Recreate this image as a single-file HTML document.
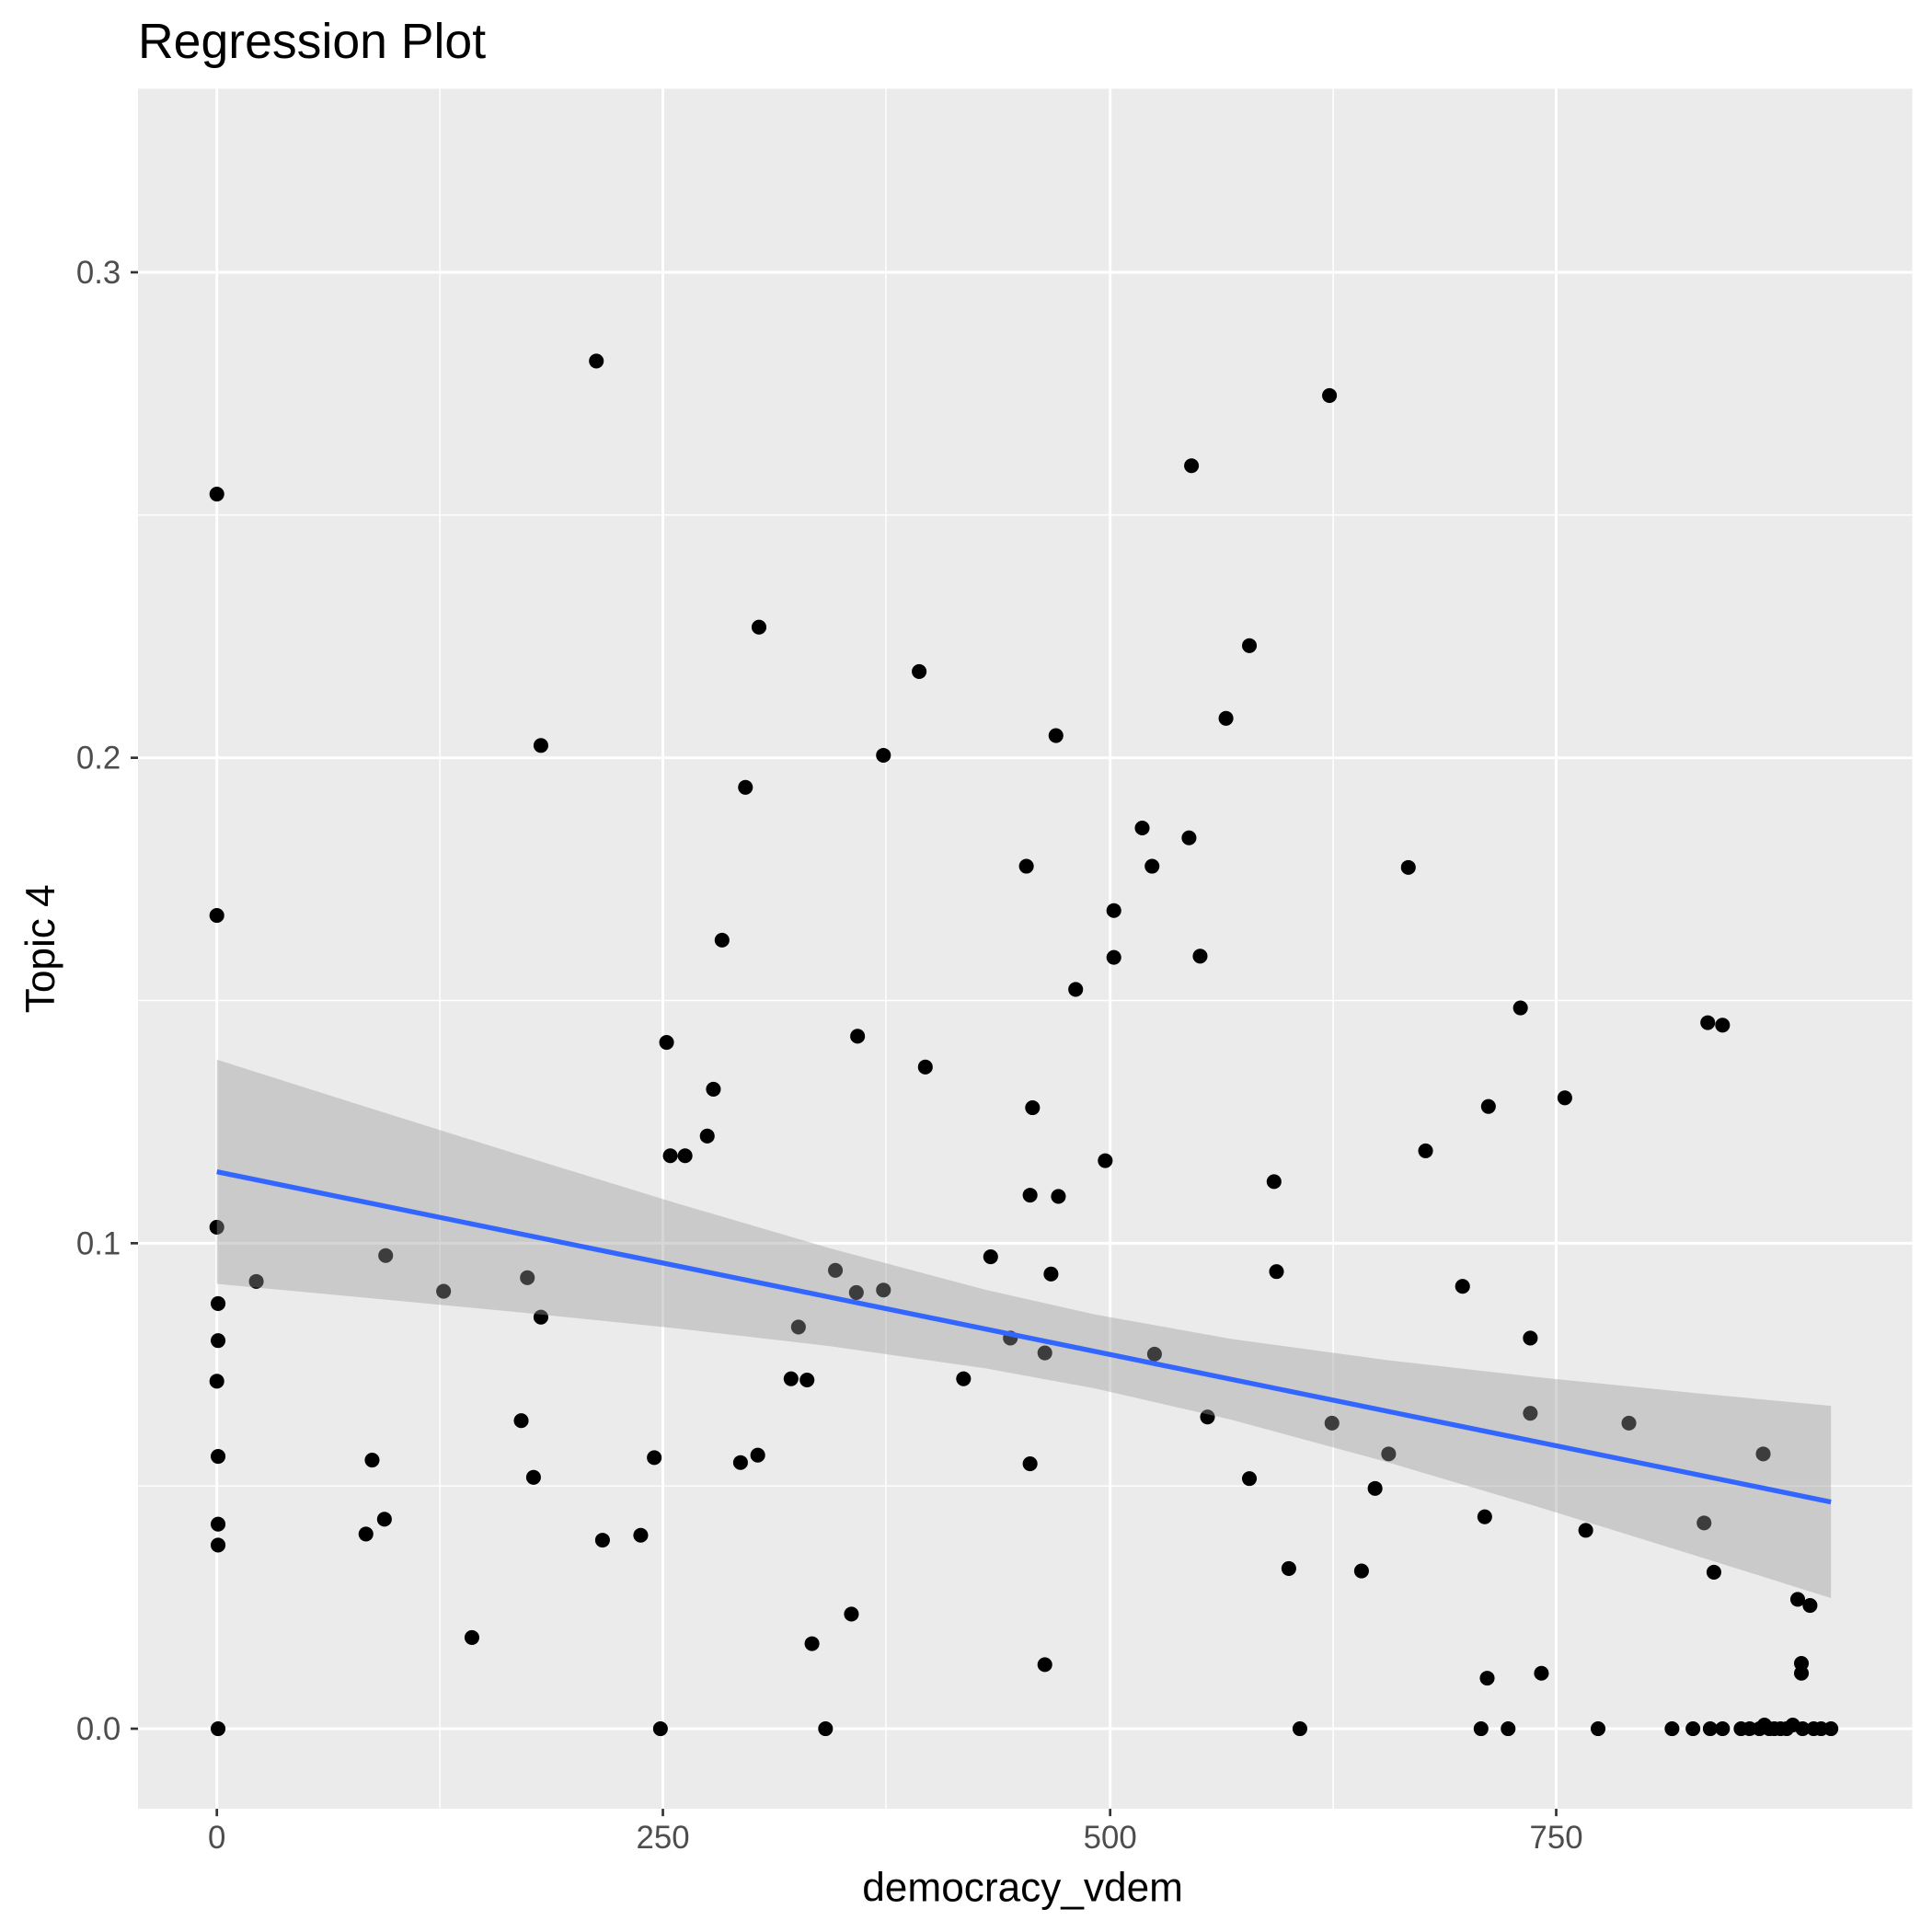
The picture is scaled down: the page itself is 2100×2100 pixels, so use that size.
<!DOCTYPE html>
<html><head><meta charset="utf-8"><style>html,body{margin:0;padding:0;background:#fff}svg{display:block}</style></head>
<body>
<svg width="2100" height="2100" viewBox="0 0 1568 1568" xmlns="http://www.w3.org/2000/svg" font-family="Liberation Sans, sans-serif">
<rect width="1568" height="1568" fill="#fff"/>
<rect x="112" y="72" width="1440" height="1396" fill="#ebebeb"/>
<g stroke="#fff" stroke-width="1.1">
<line x1="357" y1="72" x2="357" y2="1468"/><line x1="719" y1="72" x2="719" y2="1468"/><line x1="1082" y1="72" x2="1082" y2="1468"/>
<line x1="112" y1="1206" x2="1552" y2="1206"/><line x1="112" y1="812" x2="1552" y2="812"/><line x1="112" y1="418" x2="1552" y2="418"/>
</g>
<g stroke="#fff" stroke-width="2.2">
<line x1="176" y1="72" x2="176" y2="1468"/><line x1="538" y1="72" x2="538" y2="1468"/><line x1="901" y1="72" x2="901" y2="1468"/><line x1="1263" y1="72" x2="1263" y2="1468"/>
<line x1="112" y1="1403" x2="1552" y2="1403"/><line x1="112" y1="1009" x2="1552" y2="1009"/><line x1="112" y1="615" x2="1552" y2="615"/><line x1="112" y1="221" x2="1552" y2="221"/>
</g>
<g fill="#000">
<circle cx="176" cy="401" r="6"/><circle cx="176" cy="743" r="6"/><circle cx="176" cy="996" r="6"/><circle cx="177" cy="1058" r="6"/><circle cx="177" cy="1088" r="6"/><circle cx="176" cy="1121" r="6"/><circle cx="177" cy="1182" r="6"/><circle cx="177" cy="1237" r="6"/><circle cx="177" cy="1254" r="6"/><circle cx="177" cy="1403" r="6"/>
<circle cx="208" cy="1040" r="6"/><circle cx="297" cy="1245" r="6"/><circle cx="302" cy="1185" r="6"/><circle cx="312" cy="1233" r="6"/><circle cx="313" cy="1019" r="6"/><circle cx="360" cy="1048" r="6"/><circle cx="383" cy="1329" r="6"/><circle cx="423" cy="1153" r="6"/><circle cx="428" cy="1037" r="6"/><circle cx="433" cy="1199" r="6"/><circle cx="439" cy="605" r="6"/><circle cx="439" cy="1069" r="6"/><circle cx="484" cy="293" r="6"/><circle cx="489" cy="1250" r="6"/><circle cx="520" cy="1246" r="6"/><circle cx="531" cy="1183" r="6"/><circle cx="536" cy="1403" r="6"/><circle cx="541" cy="846" r="6"/><circle cx="544" cy="938" r="6"/><circle cx="556" cy="938" r="6"/><circle cx="574" cy="922" r="6"/><circle cx="579" cy="884" r="6"/><circle cx="586" cy="763" r="6"/><circle cx="601" cy="1187" r="6"/><circle cx="605" cy="639" r="6"/><circle cx="615" cy="1181" r="6"/><circle cx="616" cy="509" r="6"/><circle cx="642" cy="1119" r="6"/><circle cx="648" cy="1077" r="6"/><circle cx="655" cy="1120" r="6"/><circle cx="659" cy="1334" r="6"/><circle cx="670" cy="1403" r="6"/><circle cx="678" cy="1031" r="6"/><circle cx="691" cy="1310" r="6"/><circle cx="695" cy="1049" r="6"/><circle cx="696" cy="841" r="6"/><circle cx="717" cy="613" r="6"/><circle cx="717" cy="1047" r="6"/><circle cx="746" cy="545" r="6"/><circle cx="751" cy="866" r="6"/><circle cx="782" cy="1119" r="6"/><circle cx="804" cy="1020" r="6"/><circle cx="820" cy="1086" r="6"/><circle cx="833" cy="703" r="6"/><circle cx="836" cy="970" r="6"/><circle cx="836" cy="1188" r="6"/><circle cx="838" cy="899" r="6"/><circle cx="848" cy="1351" r="6"/><circle cx="848" cy="1098" r="6"/><circle cx="853" cy="1034" r="6"/><circle cx="857" cy="597" r="6"/><circle cx="859" cy="971" r="6"/><circle cx="873" cy="803" r="6"/><circle cx="897" cy="942" r="6"/><circle cx="904" cy="739" r="6"/><circle cx="904" cy="777" r="6"/><circle cx="927" cy="672" r="6"/><circle cx="935" cy="703" r="6"/><circle cx="937" cy="1099" r="6"/><circle cx="965" cy="680" r="6"/><circle cx="967" cy="378" r="6"/><circle cx="974" cy="776" r="6"/><circle cx="980" cy="1150" r="6"/><circle cx="995" cy="583" r="6"/><circle cx="1014" cy="524" r="6"/><circle cx="1014" cy="1200" r="6"/><circle cx="1034" cy="959" r="6"/><circle cx="1036" cy="1032" r="6"/><circle cx="1046" cy="1273" r="6"/><circle cx="1055" cy="1403" r="6"/><circle cx="1079" cy="321" r="6"/><circle cx="1081" cy="1155" r="6"/><circle cx="1105" cy="1275" r="6"/><circle cx="1116" cy="1208" r="6"/><circle cx="1127" cy="1180" r="6"/><circle cx="1143" cy="704" r="6"/><circle cx="1157" cy="934" r="6"/><circle cx="1187" cy="1044" r="6"/><circle cx="1202" cy="1403" r="6"/><circle cx="1205" cy="1231" r="6"/><circle cx="1207" cy="1362" r="6"/><circle cx="1208" cy="898" r="6"/><circle cx="1224" cy="1403" r="6"/><circle cx="1234" cy="818" r="6"/><circle cx="1242" cy="1086" r="6"/><circle cx="1242" cy="1147" r="6"/><circle cx="1251" cy="1358" r="6"/><circle cx="1270" cy="891" r="6"/><circle cx="1287" cy="1242" r="6"/><circle cx="1297" cy="1403" r="6"/><circle cx="1322" cy="1155" r="6"/><circle cx="1357" cy="1403" r="6"/><circle cx="1374" cy="1403" r="6"/><circle cx="1383" cy="1236" r="6"/><circle cx="1386" cy="830" r="6"/><circle cx="1391" cy="1276" r="6"/><circle cx="1388" cy="1403" r="6"/><circle cx="1398" cy="832" r="6"/><circle cx="1398" cy="1403" r="6"/><circle cx="1413" cy="1403" r="6"/><circle cx="1420" cy="1403" r="6"/><circle cx="1428" cy="1403" r="6"/><circle cx="1431" cy="1180" r="6"/><circle cx="1432" cy="1400" r="6"/><circle cx="1436" cy="1403" r="6"/><circle cx="1440" cy="1403" r="6"/><circle cx="1445" cy="1403" r="6"/><circle cx="1450" cy="1403" r="6"/><circle cx="1455" cy="1400" r="6"/><circle cx="1459" cy="1298" r="6"/><circle cx="1462" cy="1350" r="6"/><circle cx="1462" cy="1358" r="6"/><circle cx="1463" cy="1403" r="6"/><circle cx="1469" cy="1303" r="6"/><circle cx="1472" cy="1403" r="6"/><circle cx="1478" cy="1403" r="6"/><circle cx="1486" cy="1403" r="6"/>
</g>
<path fill="#999" fill-opacity="0.4" d="M176,860 L300,899.3 L425,938.4 L550,976.8 L675,1013.5 L800,1046.8 L889,1066.9 L1000,1086.8 L1125,1103.8 L1250,1117.9 L1375,1130.5 L1486,1141 L1486,1297 L1375,1262.1 L1250,1223.5 L1125,1186.4 L1000,1152.4 L889,1126.9 L800,1110.6 L675,1092.7 L550,1078.2 L425,1065.4 L300,1053.5 L176,1042 Z"/>
<line x1="176" y1="951" x2="1486" y2="1219" stroke="#3366ff" stroke-width="4"/>
<g fill="#4d4d4d" font-size="26" text-anchor="middle">
<text x="176" y="1500">0</text><text x="538" y="1500">250</text><text x="901" y="1500">500</text><text x="1263" y="1500">750</text>
</g>
<g fill="#4d4d4d" font-size="26" text-anchor="end">
<text x="98" y="1412">0.0</text><text x="98" y="1018">0.1</text><text x="98" y="624">0.2</text><text x="98" y="230">0.3</text>
</g>
<g stroke="#333" stroke-width="2">
<line x1="176" y1="1468" x2="176" y2="1474"/><line x1="538" y1="1468" x2="538" y2="1474"/><line x1="901" y1="1468" x2="901" y2="1474"/><line x1="1263" y1="1468" x2="1263" y2="1474"/>
<line x1="106" y1="1403" x2="112" y2="1403"/><line x1="106" y1="1009" x2="112" y2="1009"/><line x1="106" y1="615" x2="112" y2="615"/><line x1="106" y1="221" x2="112" y2="221"/>
</g>
<text x="830" y="1543" font-size="33" text-anchor="middle">democracy_vdem</text>
<text x="0" y="0" font-size="33" text-anchor="middle" transform="translate(44,770) rotate(-90)">Topic 4</text>
<text x="112" y="47" font-size="40">Regression Plot</text>
</svg>
</body></html>
